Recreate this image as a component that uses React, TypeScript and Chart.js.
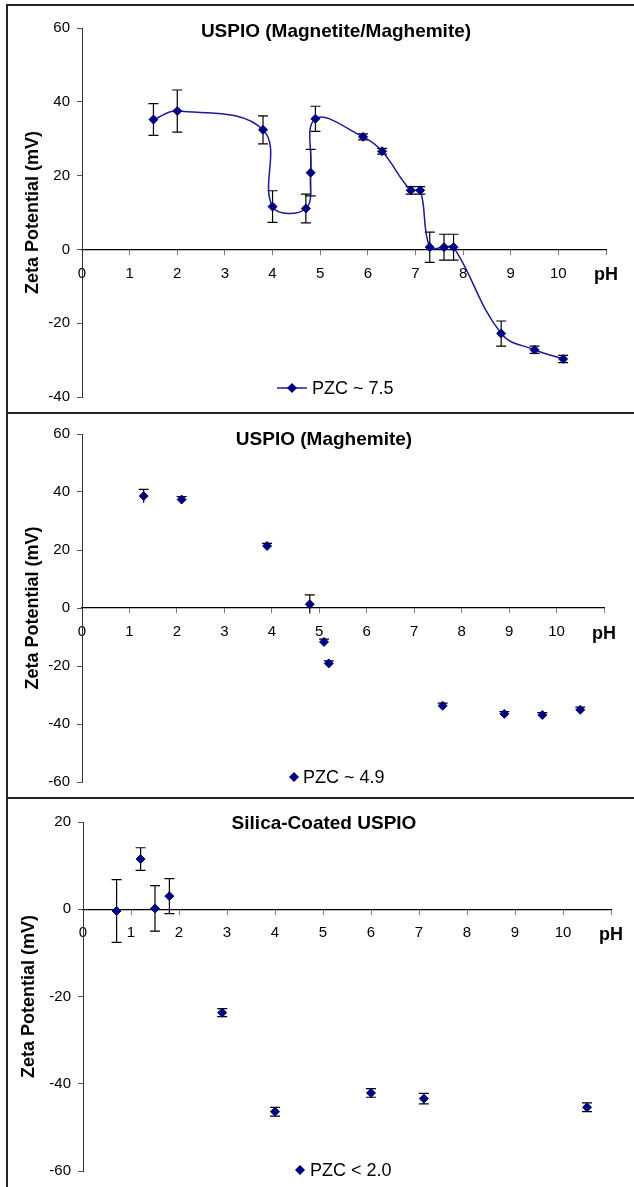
import React, { useEffect, useRef } from "react";
import { Chart, registerables } from "chart.js";

Chart.register(...registerables);

const FONT = "'Liberation Sans', Arial, Helvetica, sans-serif";

// ---------- Data ----------
const xTickLabels = ["0", "1", "2", "3", "4", "5", "6", "7", "8", "9", "10", "pH"];
const yAxisTitle = "Zeta Potential (mV)";

// Panel 1: USPIO (Magnetite/Maghemite)
const p1Title = "USPIO (Magnetite/Maghemite)";
const p1Legend = "PZC ~ 7.5";
const p1pH = [1.5, 2.0, 3.8, 4.0, 4.7, 4.8, 4.9, 5.9, 6.3, 6.9, 7.1, 7.3, 7.6, 7.8, 8.8, 9.5, 10.1];
const p1Zeta = [35.2, 37.5, 32.4, 11.6, 11.1, 20.8, 35.4, 30.5, 26.6, 16.0, 16.0, 0.6, 0.6, 0.6, -22.8, -27.2, -29.7];
const p1Err = [4.3, 5.7, 3.8, 4.3, 3.9, 6.3, 3.4, 0.8, 0.8, 1.0, 1.0, 4.1, 3.5, 3.5, 3.4, 1.0, 1.0];
const p1YRange = [-40, 60];

// Panel 2: USPIO (Maghemite)
const p2Title = "USPIO (Maghemite)";
const p2Legend = "PZC ~ 4.9";
const p2pH = [1.3, 2.1, 3.9, 4.8, 5.1, 5.2, 7.6, 8.9, 9.7, 10.5];
const p2Zeta = [38.6, 37.4, 21.4, 1.3, -11.7, -19.1, -33.7, -36.5, -36.9, -35.1];
const p2Err = [2.3, 1.0, 0.9, 3.2, 1.0, 0.9, 0.9, 0.8, 0.8, 0.9];
const p2YRange = [-60, 60];

// Panel 3: Silica-Coated USPIO
const p3Title = "Silica-Coated USPIO";
const p3Legend = "PZC < 2.0";
const p3pH = [0.7, 1.2, 1.5, 1.8, 2.9, 4.0, 6.0, 7.1, 10.5];
const p3Zeta = [-0.4, 11.5, 0.2, 3.0, -23.7, -46.4, -42.1, -43.4, -45.4];
const p3Err = [7.2, 2.6, 5.2, 4.0, 0.9, 1.0, 1.0, 1.2, 1.0];
const p3YRange = [-60, 20];

const MARKER = "#000080";
const LINE = "#1a1a9a";

type PanelCfg = {
  title: string;
  legend: string;
  pH: number[];
  zeta: number[];
  err: number[];
  yRange: number[];
  showLine: boolean;
  capTopOnly: boolean;
  top: number;
  height: number;
  pad: { top: number; bottom: number; left: number; right: number };
  axisWidth: number;
  yTitlePad: number;
  titlePos: { x: number; y: number };
  legendPos: { x: number; y: number; textX: number };
};

const panels: PanelCfg[] = [
  {
    title: p1Title, legend: p1Legend, pH: p1pH, zeta: p1Zeta, err: p1Err, yRange: p1YRange,
    showLine: true, capTopOnly: false, top: 0, height: 413,
    pad: { top: 28, bottom: 12, left: 8, right: 28 }, axisWidth: 74, yTitlePad: 14,
    titlePos: { x: 336, y: 32 }, legendPos: { x: 292, y: 388, textX: 312 },
  },
  {
    title: p2Title, legend: p2Legend, pH: p2pH, zeta: p2Zeta, err: p2Err, yRange: p2YRange,
    showLine: false, capTopOnly: true, top: 413, height: 385,
    pad: { top: 21, bottom: 15, left: 8, right: 30 }, axisWidth: 74, yTitlePad: 14,
    titlePos: { x: 324, y: 27 }, legendPos: { x: 294, y: 364, textX: 303 },
  },
  {
    title: p3Title, legend: p3Legend, pH: p3pH, zeta: p3Zeta, err: p3Err, yRange: p3YRange,
    showLine: false, capTopOnly: false, top: 798, height: 389,
    pad: { top: 24, bottom: 16, left: 8, right: 23 }, axisWidth: 75, yTitlePad: 10,
    titlePos: { x: 324, y: 26 }, legendPos: { x: 300, y: 372, textX: 310 },
  },
];

function diamond(ctx: CanvasRenderingContext2D, x: number, y: number, r: number) {
  ctx.beginPath();
  ctx.moveTo(x, y - r);
  ctx.lineTo(x + r, y);
  ctx.lineTo(x, y + r);
  ctx.lineTo(x - r, y);
  ctx.closePath();
  ctx.fill();
}

function Panel({ cfg }: { cfg: PanelCfg }) {
  const ref = useRef<HTMLCanvasElement | null>(null);
  useEffect(() => {
    if (!ref.current) return;
    const decor = {
      id: "decor",
      beforeDatasetsDraw(chart: any) {
        const ctx = chart.ctx as CanvasRenderingContext2D;
        const meta = chart.getDatasetMeta(0);
        const ys = chart.scales.y;
        ctx.save();
        ctx.strokeStyle = "#000";
        ctx.lineWidth = 1.2;
        meta.data.forEach((pt: any, i: number) => {
          const v = cfg.zeta[i];
          const e = cfg.err[i];
          const x = pt.x;
          const yT = ys.getPixelForValue(v + e);
          const yB = ys.getPixelForValue(v - e);
          ctx.beginPath();
          ctx.moveTo(x, yT);
          ctx.lineTo(x, yB);
          ctx.moveTo(x - 5, yT);
          ctx.lineTo(x + 5, yT);
          if (!cfg.capTopOnly) {
            ctx.moveTo(x - 5, yB);
            ctx.lineTo(x + 5, yB);
          }
          ctx.stroke();
        });
        ctx.restore();
      },
      afterDraw(chart: any) {
        const ctx = chart.ctx as CanvasRenderingContext2D;
        ctx.save();
        // title
        ctx.fillStyle = "#000";
        ctx.font = `bold 19px ${FONT}`;
        ctx.textAlign = "center";
        ctx.textBaseline = "middle";
        ctx.fillText(cfg.title, cfg.titlePos.x, cfg.titlePos.y);
        // legend
        const lp = cfg.legendPos;
        if (cfg.showLine) {
          ctx.strokeStyle = LINE;
          ctx.lineWidth = 1.5;
          ctx.beginPath();
          ctx.moveTo(lp.x - 15, lp.y);
          ctx.lineTo(lp.x + 15, lp.y);
          ctx.stroke();
        }
        ctx.fillStyle = MARKER;
        diamond(ctx, lp.x, lp.y, 5);
        ctx.fillStyle = "#000";
        ctx.font = `18px ${FONT}`;
        ctx.textAlign = "left";
        ctx.fillText(cfg.legend, lp.textX, lp.y + 1);
        ctx.restore();
      },
    };

    const chart = new Chart(ref.current, {
      type: "scatter",
      data: {
        datasets: [
          {
            label: cfg.legend,
            data: cfg.pH.map((x, i) => ({ x, y: cfg.zeta[i] })),
            showLine: cfg.showLine,
            tension: 0.4,
            borderColor: cfg.showLine ? LINE : MARKER,
            borderWidth: cfg.showLine ? 1.5 : 1,
            pointStyle: "rectRot",
            pointRadius: 4.5,
            pointBorderWidth: 1,
            pointBackgroundColor: MARKER,
            pointBorderColor: MARKER,
          } as any,
        ],
      },
      options: {
        responsive: false,
        animation: false,
        devicePixelRatio: 1,
        layout: { padding: cfg.pad },
        plugins: {
          legend: { display: false },
          title: { display: false },
          tooltip: { enabled: false },
        },
        scales: {
          x: {
            type: "linear",
            position: { y: 0 } as any,
            min: 0,
            max: 11,
            grid: { drawOnChartArea: false, drawTicks: true, tickLength: 5, tickColor: "#808080" },
            border: { color: "#000", width: 1.2 },
            ticks: {
              stepSize: 1,
              autoSkip: false,
              maxRotation: 0,
              padding: 10,
              color: "#000",
              callback: (v: any) => xTickLabels[Math.round(Number(v))] ?? "",
              font: (c: any) =>
                c.tick && c.tick.value === 11
                  ? { family: FONT, size: 18, weight: "bold" }
                  : { family: FONT, size: 15 },
            } as any,
          },
          y: {
            type: "linear",
            position: "left",
            min: cfg.yRange[0],
            max: cfg.yRange[1],
            grid: { drawOnChartArea: false, drawTicks: true, tickLength: 5, tickColor: "#555" },
            border: { color: "#333", width: 1 },
            ticks: {
              stepSize: 20,
              padding: 7,
              color: "#000",
              font: { family: FONT, size: 15 },
            },
            title: {
              display: true,
              text: yAxisTitle,
              color: "#000",
              font: { family: FONT, size: 18, weight: "bold" },
              padding: { top: cfg.yTitlePad, bottom: 0 },
            },
            afterFit: (scale: any) => {
              scale.width = cfg.axisWidth;
            },
          } as any,
        },
      },
      plugins: [decor],
    });
    return () => chart.destroy();
  }, [cfg]);

  return (
    <canvas
      ref={ref}
      width={634}
      height={cfg.height}
      style={{ position: "absolute", left: 0, top: cfg.top, width: 634, height: cfg.height }}
    />
  );
}

const lineStyle = (l: number, t: number, w: number, h: number): React.CSSProperties => ({
  position: "absolute",
  left: l,
  top: t,
  width: w,
  height: h,
  background: "#222",
});

export default function App() {
  return (
    <div
      style={{
        position: "absolute",
        left: 0,
        top: 0,
        width: 634,
        height: 1187,
        background: "#fff",
        overflow: "hidden",
      }}
    >
      {panels.map((p, i) => (
        <Panel key={i} cfg={p} />
      ))}
      <div style={lineStyle(6, 4, 628, 2)} />
      <div style={lineStyle(6, 4, 2, 1183)} />
      <div style={lineStyle(6, 412, 628, 2)} />
      <div style={lineStyle(6, 797, 628, 2)} />
    </div>
  );
}
